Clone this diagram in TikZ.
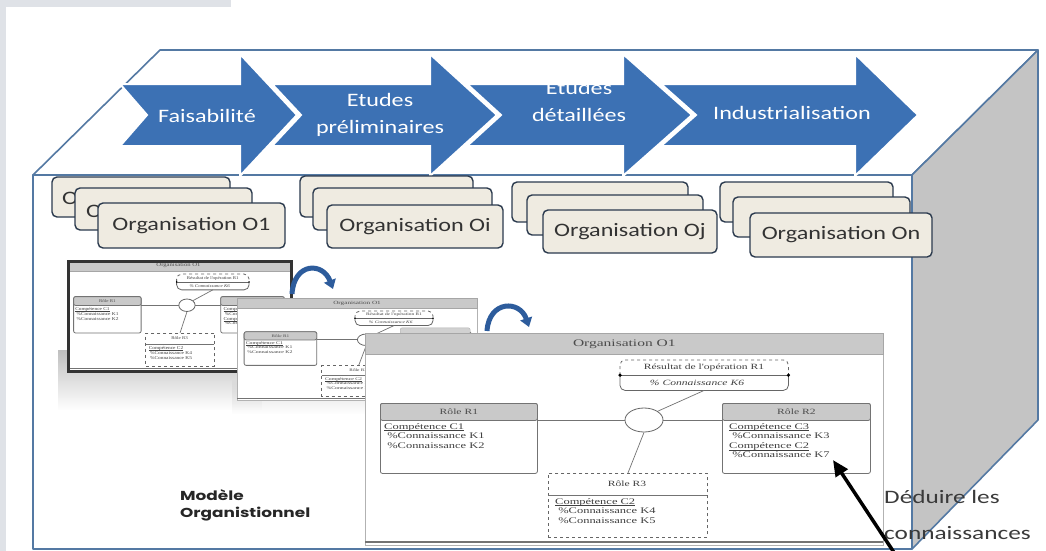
\documentclass[tikz,border=0pt]{standalone}
\usepackage{graphicx}
\usepackage{fontspec}
\setmainfont{Carlito}
\newfontfamily\serifd{Liberation Serif}
\newfontfamily\popf{Poppins}
\usetikzlibrary{arrows.meta,shapes.geometric,fadings}
\definecolor{bggrey}{HTML}{DFE2E7}
\definecolor{boxblue}{HTML}{5479A3}
\definecolor{sidegrey}{HTML}{C4C4C4}
\definecolor{arrowblue}{HTML}{3C71B4}
\definecolor{orgfill}{HTML}{EFEBE1}
\definecolor{orgdraw}{HTML}{2B3A4E}
\definecolor{hdrgrey}{HTML}{C9C9C9}
\definecolor{curveblue}{HTML}{2D5C9C}
\definecolor{deduc}{HTML}{3A3A3A}
\newcommand\wsx[1]{\scalebox{1.27}[1]{#1}}
\newcommand\dsx[1]{\scalebox{1.45}[1]{#1}}
\newcommand\uln[1]{\underline{\raisebox{0pt}[\height][0pt]{#1}}}
\tikzset{
  boxline/.style={draw=boxblue, line width=1.6, line join=round},
  chev/.style={fill=arrowblue, draw=white, line width=2, line join=miter},
  chevtext/.style={text=white, font=\fontsize{19}{27}\selectfont, align=center, inner sep=0},
  orgbox/.style={draw=orgdraw, fill=orgfill, line width=1.4, rounded corners=5, font=\fontsize{19}{22}\selectfont, text=black!80, inner sep=0},
  frag/.style={font=\fontsize{19}{22}\selectfont, text=black!80, inner sep=0, anchor=west},
  diagbody/.style={draw=black!30, fill=white, line width=.6, inner sep=0},
  diaghdr/.style={draw=black!35, fill=hdrgrey, line width=.6, inner sep=0, font=\serifd\fontsize{10}{11}\selectfont, text=black!70},
  tabshape/.style={draw=black!30, fill=hdrgrey!85, rounded corners=2, inner sep=0},
  rolebox/.style={draw=black!55, fill=white, line width=.8, rounded corners=2, inner sep=0},
  rolehdr/.style={draw=black!55, fill=hdrgrey, line width=.8, rounded corners=2, inner sep=0, font=\serifd\fontsize{8}{9}\selectfont, text=black!70},
  dtext/.style={inner sep=0, font=\serifd\fontsize{8.6}{9.6}\selectfont, text=black!75},
  rthree/.style={draw=black!60, dashed, line width=.9, fill=white, inner sep=0},
  thinline/.style={draw=black!55, line width=.7},
  curvarrow/.style={draw=curveblue, line width=5, -{Triangle[length=9,width=12]}},
  orgdiag/.pic={
    \node[diagbody, anchor=north west, minimum width=518, minimum height=212] (-body) at (0,0) {};
    \node[diaghdr, anchor=north west, minimum width=518, minimum height=21] (-hdr) at (0,0) {\scalebox{1.55}[1]{Organisation O1}};
    \draw[black!55, line width=1.4] (0,209) -- (518,209);
    % result box
    \node[anchor=north west, minimum width=168, minimum height=30, inner sep=0] (-res) at (255,27) {};
    \draw[black!60, dashed, line width=.8, rounded corners=5] (-res.west) |- (-res.north) -| (-res.east);
    \draw[black!60, line width=.8, rounded corners=5] (-res.west) |- (-res.south) -| (-res.east);
    \draw[black!60, line width=.6] (-res.west) -- (-res.east);
    \fill[black] (-res.west) circle[radius=1.8pt] (-res.east) circle[radius=1.8pt];
    \node[dtext, font=\serifd\fontsize{8}{9}\selectfont] (-rest) at (339,35) {\dsx{Résultat de l'opération R1}};
    \node[dtext, font=\serifd\itshape\fontsize{8}{9}\selectfont] (-resk) at (332,50) {\dsx{\% Connaissance K6}};
    % roles
    \node[rolebox, anchor=north west, minimum width=157, minimum height=70] (-r1) at (15,70) {};
    \node[rolehdr, anchor=north west, minimum width=157, minimum height=17] (-r1h) at (15,70) {\dsx{Rôle R1}};
    \node[dtext, anchor=north west, align=left] (-r1t) at (19,90) {\dsx{\uln{Compétence C1}}\\\dsx{\ \%Connaissance K1}\\\dsx{\ \%Connaissance K2}};
    \node[rolebox, anchor=north west, minimum width=148, minimum height=70] (-r2) at (357,70) {};
    \node[rolehdr, anchor=north west, minimum width=148, minimum height=17] (-r2h) at (357,70) {\dsx{Rôle R2}};
    \node[dtext, anchor=north west, align=left] (-r2t) at (364,90) {\dsx{\uln{Compétence C3}}\\\dsx{\ \%Connaissance K3}\\\dsx{\uln{Compétence C2}}\\\dsx{\ \%Connaissance K7}};
    \node[rthree, anchor=north west, minimum width=159, minimum height=64] (-r3) at (183,140) {};
    \draw[thinline] (183,162) -- (342,162);
    \node[dtext, font=\serifd\fontsize{8}{9}\selectfont] (-r3h) at (262,151) {\dsx{Rôle R3}};
    \node[dtext, anchor=north west, align=left] (-r3t) at (190,165) {\dsx{\uln{Compétence C2}}\\\dsx{\ \%Connaissance K4}\\\dsx{\ \%Connaissance K5}};
    % relation
    \node[draw=black!60, line width=.8, fill=white, ellipse, minimum width=38, minimum height=24, inner sep=0] (-ell) at (279,87) {};
    \draw[thinline] (-ell.west) -- (-ell.west -| -r1.east);
    \draw[thinline] (-ell.east) -- (-ell.east -| -r2.west);
    \draw[thinline] (-ell.north east) -- (-res.south);
    \draw[thinline] (-ell.south) -- (-r3.north);
  }
}
\begin{document}
\begin{tikzpicture}[x=1pt,y=-1pt]
\useasboundingbox (0,0) rectangle (1046,551);
\fill[white] (0,0) rectangle (1046,551);
\fill[bggrey] (0,0) rectangle (231,7);
\fill[bggrey] (0,0) rectangle (6,551);

% box
\draw[boxline, fill=white] (33,175) -- (160,50) -- (1038,50) -- (912,175) -- cycle;
\draw[boxline, fill=sidegrey] (912,175) -- (1038,50) -- (1038,420) -- (912,549) -- cycle;
\draw[boxline, fill=white] (33,175) rectangle (912,549);

% phase arrows
\fill[chev] (661,84) -- (855,84) -- (855,54) -- (918,115) -- (855,176) -- (855,146) -- (661,146) -- (696,115) -- cycle;
\fill[chev] (467,84) -- (623,84) -- (623,54) -- (692,115) -- (623,176) -- (623,146) -- (467,146) -- (501,115) -- cycle;
\fill[chev] (272,84) -- (430,84) -- (430,54) -- (497,115) -- (430,176) -- (430,146) -- (272,146) -- (301,115) -- cycle;
\fill[chev] (120,84) -- (240,84) -- (240,54) -- (297,115) -- (240,176) -- (240,146) -- (120,146) -- (147,115) -- cycle;
\node[chevtext] (p1) at (207,116) {\wsx{Faisabilité}};
\node[chevtext] (p2) at (380,115) {\wsx{Etudes}\\\wsx{préliminaires}};
\node[chevtext] (p3) at (579,101) {\wsx{Etudes}\\\wsx{détaillées}};
\node[chevtext] (p4) at (792,113) {\wsx{Industrialisation}};

% organisations
\node[orgbox, minimum width=178, minimum height=40] (o1a) at (141,197) {};
\node[frag] (o1af) at (62,198) {\wsx{O}};
\node[orgbox, minimum width=177, minimum height=42] (o1b) at (163.5,209) {};
\node[frag] (o1bf) at (86,211) {\wsx{O}};
\node[orgbox, minimum width=187, minimum height=45] (o1c) at (191.5,225.5) {\wsx{Organisation O1}};
\node[orgbox, minimum width=173, minimum height=41] (o2a) at (386.5,196.5) {};
\node[orgbox, minimum width=179, minimum height=42] (o2b) at (402.5,209) {};
\node[orgbox, minimum width=176, minimum height=43] (o2c) at (415,226.5) {\wsx{Organisation Oi}};
\node[orgbox, minimum width=176, minimum height=40] (o3a) at (600,202) {};
\node[orgbox, minimum width=176, minimum height=40] (o3b) at (615,215) {};
\node[orgbox, minimum width=174, minimum height=43] (o3c) at (630,231.5) {\wsx{Organisation Oj}};
\node[orgbox, minimum width=173, minimum height=40] (o4a) at (806.5,202) {};
\node[orgbox, minimum width=177, minimum height=40] (o4b) at (821.5,217) {};
\node[orgbox, minimum width=182, minimum height=44] (o4c) at (841,235) {\wsx{Organisation On}};

% shadows
\fill[black!25, path fading=south] (58,350) rectangle (262,410);
\fill[black!14, path fading=south] (232,380) rectangle (370,414);

% thumbnails
\begin{scope}[shift={(67,260)}, xscale=.43, yscale=.52, transform shape]
  \pic (T1) at (0,0) {orgdiag};
\end{scope}
\node[draw=black!80, line width=3, minimum width=223, minimum height=110, anchor=north west, inner sep=0] (t1frame) at (67,260) {};
\begin{scope}[shift={(237,298)}, xscale=.463, yscale=.48, transform shape]
  \pic (T2) at (0,0) {orgdiag};
\end{scope}

% curved arrows
\coordinate (c1s) at (292,294);
\coordinate (c1e) at (333,289);
\draw[curvarrow] (c1s) .. controls (294,262) and (323,262) .. (c1e);
\coordinate (c2s) at (487,331);
\coordinate (c2e) at (529,327);
\draw[curvarrow] (c2s) .. controls (489,300) and (520,300) .. (c2e);

% main diagram
\node[tabshape, anchor=south west, minimum width=70, minimum height=6] (mtab) at (400,334) {};
\pic (M) at (365,333) {orgdiag};

% labels
\node[anchor=north west, align=left, inner sep=0, font=\popf\bfseries\fontsize{13}{17}\selectfont, text=black!85] (model) at (180,489) {\scalebox{1.3}[1]{Modèle}\\\scalebox{1.3}[1]{Organistionnel}};
\node[anchor=west, inner sep=0, font=\fontsize{19}{22}\selectfont, text=deduc] (ded1) at (884,497) {\scalebox{1.33}[1]{Déduire les}};
\node[anchor=west, inner sep=0, font=\fontsize{19}{22}\selectfont, text=deduc] (ded2) at (884,533) {\scalebox{1.33}[1]{connaissances}};

% deduction arrow
\coordinate (arrTail) at (897,557);
\coordinate (arrTip) at (833,460);
\draw[line width=3.5, -{Triangle[length=16,width=14]}] (arrTail) -- (arrTip);
\end{tikzpicture}
\end{document}
